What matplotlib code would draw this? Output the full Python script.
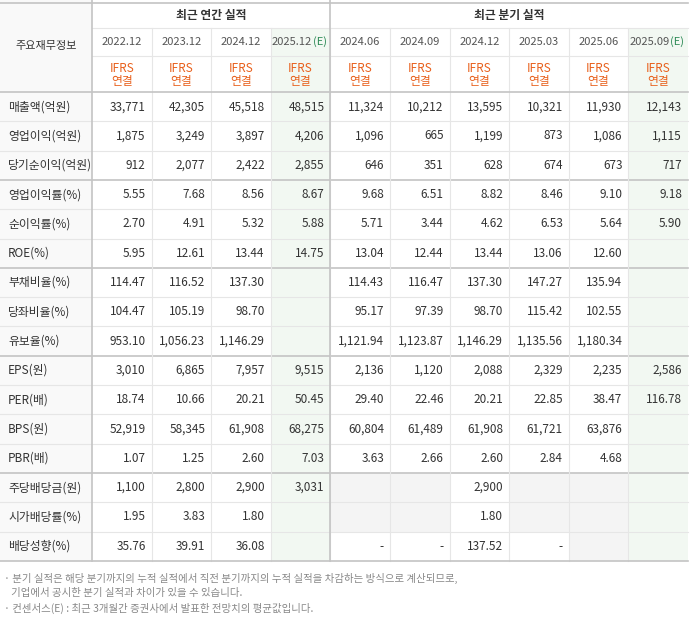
"""Financial summary table recreated with matplotlib."""
import matplotlib.pyplot as plt
from matplotlib.patches import Rectangle

plt.rcParams['font.family'] = ['Noto Sans CJK KR', 'DejaVu Sans']

row_labels = ['매출액(억원)', '영업이익(억원)', '당기순이익(억원)', '영업이익률(%)',
              '순이익률(%)', 'ROE(%)', '부채비율(%)', '당좌비율(%)', '유보율(%)',
              'EPS(원)', 'PER(배)', 'BPS(원)', 'PBR(배)', '주당배당금(원)',
              '시가배당률(%)', '배당성향(%)']
periods = ['2022.12', '2023.12', '2024.12', '2025.12', '2024.06', '2024.09',
           '2024.12', '2025.03', '2025.06', '2025.09']
estimate_cols = [3, 9]
values = [
    ['33,771', '42,305', '45,518', '48,515', '11,324', '10,212', '13,595', '10,321', '11,930', '12,143'],
    ['1,875', '3,249', '3,897', '4,206', '1,096', '665', '1,199', '873', '1,086', '1,115'],
    ['912', '2,077', '2,422', '2,855', '646', '351', '628', '674', '673', '717'],
    ['5.55', '7.68', '8.56', '8.67', '9.68', '6.51', '8.82', '8.46', '9.10', '9.18'],
    ['2.70', '4.91', '5.32', '5.88', '5.71', '3.44', '4.62', '6.53', '5.64', '5.90'],
    ['5.95', '12.61', '13.44', '14.75', '13.04', '12.44', '13.44', '13.06', '12.60', ''],
    ['114.47', '116.52', '137.30', '', '114.43', '116.47', '137.30', '147.27', '135.94', ''],
    ['104.47', '105.19', '98.70', '', '95.17', '97.39', '98.70', '115.42', '102.55', ''],
    ['953.10', '1,056.23', '1,146.29', '', '1,121.94', '1,123.87', '1,146.29', '1,135.56', '1,180.34', ''],
    ['3,010', '6,865', '7,957', '9,515', '2,136', '1,120', '2,088', '2,329', '2,235', '2,586'],
    ['18.74', '10.66', '20.21', '50.45', '29.40', '22.46', '20.21', '22.85', '38.47', '116.78'],
    ['52,919', '58,345', '61,908', '68,275', '60,804', '61,489', '61,908', '61,721', '63,876', ''],
    ['1.07', '1.25', '2.60', '7.03', '3.63', '2.66', '2.60', '2.84', '4.68', ''],
    ['1,100', '2,800', '2,900', '3,031', '', '', '2,900', '', '', ''],
    ['1.95', '3.83', '1.80', '', '', '', '1.80', '', '', ''],
    ['35.76', '39.91', '36.08', '', '-', '-', '137.52', '-', '', ''],
]
gray_cells = [(13, 4), (13, 5), (13, 7), (13, 8), (14, 4), (14, 5), (14, 7), (14, 8), (15, 8)]
group_breaks = [3, 6, 9, 13]
notes = ['· 분기 실적은 해당 분기까지의 누적 실적에서 직전 분기까지의 누적 실적을 차감하는 방식으로 계산되므로,',
         '   기업에서 공시한 분기 실적과 차이가 있을 수 있습니다.',
         '· 컨센서스(E) : 최근 3개월간 증권사에서 발표한 전망치의 평균값입니다.']

W, H = 691, 619
fig = plt.figure(figsize=(W / 100, H / 100), dpi=100)
ax = fig.add_axes([0, 0, 1, 1])
ax.set_xlim(0, W)
ax.set_ylim(H, 0)
ax.axis('off')

label_w = 92
col_x = [label_w + i * 59.6 for i in range(11)]
h0, h1, h2 = 0, 28, 56
top = 92
rh = 29.3
bottom = top + rh * len(row_labels)
line_c, thick_c = '#e6e6e6', '#c4c4c4'
txt_c = '#333333'

# backgrounds
ax.add_patch(Rectangle((0, h0), label_w, bottom, color='#f9f9f9', lw=0))
for c in estimate_cols:
    ax.add_patch(Rectangle((col_x[c], h1), col_x[c + 1] - col_x[c], bottom - h1,
                           color='#f2f8f2', lw=0))
for r, c in gray_cells:
    ax.add_patch(Rectangle((col_x[c], top + r * rh), col_x[c + 1] - col_x[c], rh,
                           color='#f4f4f4', lw=0))

# grid lines
for r in range(1, len(row_labels)):
    y = top + r * rh
    thick = r in group_breaks
    ax.plot([0, col_x[-1]], [y, y], color=thick_c if thick else line_c, lw=1.2 if thick else 0.8)
ax.plot([label_w, col_x[-1]], [h1, h1], color=line_c, lw=0.8)
ax.plot([label_w, col_x[-1]], [h2, h2], color=line_c, lw=0.8)
for x in col_x[1:-1]:
    ax.plot([x, x], [h1, bottom], color=line_c, lw=0.8)
for x in (label_w, col_x[4]):
    ax.plot([x, x], [h0, bottom], color=thick_c, lw=1.2)
for y in (h0 + 3, top, bottom):
    ax.plot([0, col_x[-1]], [y, y], color=thick_c, lw=1.2)

# header text
ax.text(label_w / 2, top / 2, '주요재무정보', ha='center', va='center', fontsize=8, color=txt_c)
ax.text((col_x[0] + col_x[4]) / 2, (h0 + h1) / 2 + 1, '최근 연간 실적', ha='center', va='center',
        fontsize=8.5, color=txt_c, fontweight='bold')
ax.text((col_x[4] + col_x[10]) / 2, (h0 + h1) / 2 + 1, '최근 분기 실적', ha='center', va='center',
        fontsize=8.5, color=txt_c, fontweight='bold')
for c, p in enumerate(periods):
    cx = (col_x[c] + col_x[c + 1]) / 2
    if c in estimate_cols:
        ax.text(cx - 9, (h1 + h2) / 2, p, ha='center', va='center', fontsize=8, color='#555555')
        ax.text(cx + 19, (h1 + h2) / 2, '(E)', ha='center', va='center', fontsize=8, color='#2e8b57')
    else:
        ax.text(cx, (h1 + h2) / 2, p, ha='center', va='center', fontsize=8, color='#555555')
    ax.text(cx, h2 + 12, 'IFRS', ha='center', va='center', fontsize=8.5, color='#e8601c')
    ax.text(cx, h2 + 25, '연결', ha='center', va='center', fontsize=8.5, color='#e8601c')

# body text
for r, lab in enumerate(row_labels):
    cy = top + (r + 0.5) * rh
    ax.text(8, cy, lab, ha='left', va='center', fontsize=8.5, color=txt_c)
    for c, v in enumerate(values[r]):
        if v:
            ax.text(col_x[c + 1] - 6, cy, v, ha='right', va='center', fontsize=8.5, color=txt_c)

for i, n in enumerate(notes):
    ax.text(4, 578 + i * 15, n, ha='left', va='center', fontsize=7.5, color='#888888')

fig.savefig('out.png', dpi=100)
